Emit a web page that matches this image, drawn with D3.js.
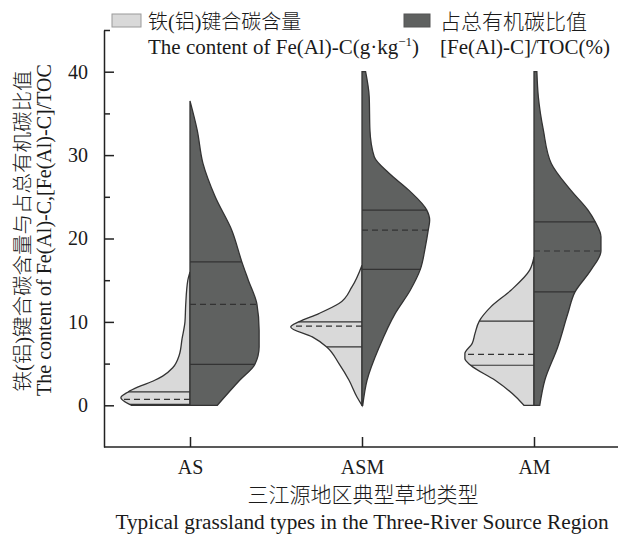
<!DOCTYPE html>
<html lang="zh">
<head>
<meta charset="utf-8">
<title>Split violin</title>
<script src="https://d3js.org/d3.v7.min.js"></script>
<style>
  body { margin: 0; background: #fff; }
  text { font-family: "Liberation Serif", "Noto Sans CJK SC", serif; fill: #1a1a1a; }
  .cjk { font-weight: 300; }
</style>
</head>
<body>
<script>
// categories on the x axis
const categories = ["AS", "ASM", "AM"];

// density outlines: [value, relative half-width]
// left half: Fe(Al)-C content
const contentAS  = [[16,0],[15,.03],[12,.06],[10,.07],[8,.11],[6,.15],[4.5,.24],[3.5,.38],[3,.49],[2.2,.72],[1.6,.86],[0.9,.96],[0.4,.9],[0,.81]];
const contentASM = [[16.8,0],[14.2,.14],[12.2,.32],[11,.6],[10,.88],[9.4,.99],[8.2,.69],[7,.49],[5,.32],[3,.18],[1,.07],[0,0]];
const contentAM  = [[17.8,0],[16.2,.06],[13.8,.32],[11.8,.6],[10.1,.76],[8.6,.82],[7.4,.86],[6.2,.96],[5.6,.96],[4.8,.88],[3,.54],[1,.25],[0,.14]];
// right half: [Fe(Al)-C]/TOC ratio
const ratioAS  = [[36.5,0],[33,.1],[29,.18],[25,.35],[21,.58],[17.2,.72],[15,.81],[12.1,.93],[9,.96],[7,.96],[4.9,.9],[3,.69],[0,.38]];
const ratioASM = [[40,.05],[37,.1],[33,.11],[29.8,.17],[27.8,.38],[25.8,.65],[23.4,.9],[22.2,.94],[21,.92],[19,.88],[16.3,.81],[13.8,.67],[11,.46],[7,.24],[3,.07],[0,.01]];
const ratioAM  = [[40,.04],[37,.06],[33,.13],[29,.24],[25.8,.51],[23.4,.75],[22,.85],[20.2,.93],[18.5,.93],[16.2,.79],[13.6,.57],[11,.47],[7,.33],[3,.15],[0,.08]];

// quartiles [Q1, median, Q3]
const contentQuart = [[0.1, 0.7, 1.6], [7.0, 9.5, 10.0], [4.8, 6.1, 10.1]];
const ratioQuart   = [[4.9, 12.1, 17.2], [16.3, 21.0, 23.4], [13.6, 18.5, 22.0]];

const contentProfiles = [contentAS, contentASM, contentAM];
const ratioProfiles = [ratioAS, ratioASM, ratioAM];

const majorTicks = [0, 10, 20, 30, 40];
const minorTicks = [5, 15, 25, 35, 45];

const W = 618, H = 535;
const lightFill = "#d9d9d9", darkFill = "#5f6160", edge = "#333";

const svg = d3.select("body").append("svg")
  .attr("width", W).attr("height", H);

const x = d3.scalePoint().domain(categories).range([104, 620]).padding(0.5);
const y = d3.scaleLinear().domain([-5, 45]).range([447, 30]);
const w = d3.scaleLinear().domain([0, 1]).range([0, 72]);

// linear lookup of the half-width at a value
function widthAt(profile, v) {
  const p = profile.slice().sort((a, b) => a[0] - b[0]);
  for (let i = 0; i < p.length - 1; i++) {
    if (v >= p[i][0] && v <= p[i + 1][0]) {
      const t = (v - p[i][0]) / (p[i + 1][0] - p[i][0]);
      return p[i][1] + t * (p[i + 1][1] - p[i][1]);
    }
  }
  return 0;
}

function drawHalf(cat, profile, quart, side, fill) {
  const cx = x(cat);
  const area = d3.area()
    .y(d => y(d[0]))
    .x0(cx)
    .x1(d => cx + side * w(d[1]))
    .curve(d3.curveMonotoneY);
  svg.append("path")
    .datum(profile)
    .attr("d", area)
    .attr("fill", fill)
    .attr("stroke", edge)
    .attr("stroke-width", 1.3);

  quart.forEach((q, i) => {
    svg.append("line")
      .attr("x1", cx)
      .attr("x2", cx + side * w(widthAt(profile, q)))
      .attr("y1", y(q)).attr("y2", y(q))
      .attr("stroke", edge)
      .attr("stroke-width", 1.2)
      .attr("stroke-dasharray", i === 1 ? "6,4" : null);
  });
}

categories.forEach((c, i) => {
  drawHalf(c, contentProfiles[i], contentQuart[i], -1, lightFill);
  drawHalf(c, ratioProfiles[i], ratioQuart[i], 1, darkFill);
});

// axes
const yAxis = svg.append("g")
  .attr("transform", "translate(104,0)")
  .call(d3.axisLeft(y).tickValues(majorTicks).tickSize(-10).tickSizeOuter(0).tickPadding(16))
  .attr("font-family", null).attr("font-size", null);
svg.append("g")
  .attr("transform", "translate(104,0)")
  .call(d3.axisLeft(y).tickValues(minorTicks).tickSize(-6).tickSizeOuter(0).tickFormat(""))
  .select(".domain").remove();
yAxis.selectAll("text").attr("font-size", 20).attr("fill", "#1a1a1a");

const xAxis = svg.append("g")
  .attr("transform", "translate(0,447)")
  .call(d3.axisBottom(x).tickSize(-10).tickSizeOuter(0).tickPadding(13))
  .attr("font-family", null).attr("font-size", null);
xAxis.select(".domain").attr("d", "M104,0H618");
xAxis.selectAll("text").attr("font-size", 20).attr("fill", "#1a1a1a");

svg.selectAll(".domain, .tick line").attr("stroke", "#222").attr("stroke-width", 1.5);

// axis titles
svg.append("text").attr("class", "cjk")
  .attr("x", 363).attr("y", 502)
  .attr("text-anchor", "middle").attr("font-size", 21)
  .text("三江源地区典型草地类型");
svg.append("text")
  .attr("x", 362).attr("y", 529)
  .attr("text-anchor", "middle").attr("font-size", 21.3)
  .text("Typical grassland types in the Three-River Source Region");

svg.append("text").attr("class", "cjk")
  .attr("transform", "translate(30,231) rotate(-90)")
  .attr("text-anchor", "middle").attr("font-size", 20.5)
  .text("铁(铝)键合碳含量与占总有机碳比值");
svg.append("text")
  .attr("transform", "translate(51,230) rotate(-90)")
  .attr("text-anchor", "middle").attr("font-size", 20)
  .text("The content of Fe(Al)-C,[Fe(Al)-C]/TOC");

// legend
svg.append("rect").attr("x", 112).attr("y", 14).attr("width", 29).attr("height", 13)
  .attr("fill", lightFill).attr("stroke", "#9a9a9a");
svg.append("rect").attr("x", 404).attr("y", 14).attr("width", 26).attr("height", 13)
  .attr("fill", darkFill).attr("stroke", "#555");

svg.append("text").attr("class", "cjk").attr("x", 148).attr("y", 29).attr("font-size", 20).text("铁(铝)键合碳含量");
svg.append("text").attr("class", "cjk").attr("x", 440).attr("y", 29).attr("font-size", 21).text("占总有机碳比值");

const leg1 = svg.append("text").attr("x", 148).attr("y", 54).attr("font-size", 21);
leg1.append("tspan").text("The content of Fe(Al)-C(g·kg");
leg1.append("tspan").attr("dy", -8).attr("font-size", 13).text("−1");
leg1.append("tspan").attr("dy", 8).text(")");
svg.append("text").attr("x", 440).attr("y", 54).attr("font-size", 21).text("[Fe(Al)-C]/TOC(%)");
</script>
</body>
</html>
